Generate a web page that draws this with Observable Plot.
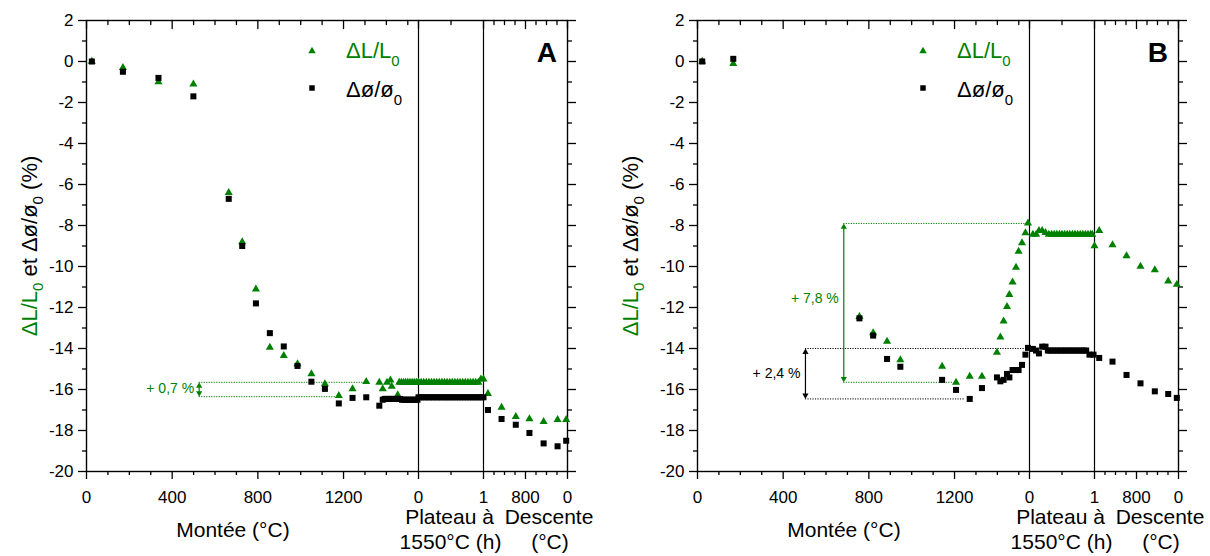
<!DOCTYPE html>
<html><head><meta charset="utf-8">
<script src="https://cdn.jsdelivr.net/npm/d3@7"></script>
<script src="https://cdn.jsdelivr.net/npm/@observablehq/plot@0.6"></script>
<style>
body{margin:0;background:#fff;}
#wrap{display:flex;width:1210px;height:556px;overflow:hidden;}
#wrap svg{font-family:"Liberation Sans",Arial,sans-serif;}
</style></head><body><div id="wrap"></div>
<script>
const GREEN = "#008000";

// Broken x axis: Montée (°C) | Plateau à 1550°C (h) | Descente (°C)
const segDomains = [[0, 1550], [0, 1], [1600, 0]];
const segSpans = [332, 65, 84];

// Tick values
const monteeMajor = [0, 400, 800, 1200];
const monteeMinor = [100, 200, 300, 500, 600, 700, 900, 1000, 1100, 1300, 1400, 1500];
const plateauMajor = [0, 1];
const plateauMinor = [0.5];
const descenteMajor = [800, 0];
const descenteMinor = [1400, 1200, 1000, 600, 400, 200];
const yMajor = [2, 0, -2, -4, -6, -8, -10, -12, -14, -16, -18, -20];
const yMinor = [1, -1, -3, -5, -7, -9, -11, -13, -15, -17, -19];

// ---------- Panel A ----------
const A_monteeT_L = [25,170,336,499,664,727,791,856,921,985,1050,1113,1178,1242,1306,1367,1383,1403,1419,1425,1453,1460,1470,1480,1490,1500,1510,1520,1530,1540,1550];
const A_montee_L  = [0,-0.3,-1.0,-1.1,-6.4,-8.8,-11.1,-13.95,-14.35,-14.75,-15.24,-15.73,-16.3,-15.97,-15.62,-15.65,-15.97,-15.65,-15.55,-15.85,-16.27,-15.65,-15.65,-15.65,-15.65,-15.65,-15.65,-15.65,-15.65,-15.65,-15.65];
const A_monteeT_D = [25,170,336,499,664,727,791,856,921,985,1050,1113,1178,1242,1306,1367,1383,1392,1401,1410,1419,1428,1437,1446,1455,1464,1473,1482,1491,1500,1509,1518,1527,1536,1545];
const A_montee_D  = [0,-0.5,-0.8,-1.7,-6.7,-9.0,-11.8,-13.25,-13.9,-14.85,-15.62,-15.97,-16.68,-16.41,-16.38,-16.79,-16.5,-16.46,-16.46,-16.46,-16.46,-16.46,-16.46,-16.46,-16.46,-16.46,-16.5,-16.5,-16.5,-16.5,-16.5,-16.5,-16.5,-16.5,-16.5];
const A_plateauH  = [0,0.04,0.08,0.12,0.16,0.2,0.24,0.28,0.32,0.36,0.4,0.44,0.48,0.52,0.56,0.6,0.64,0.68,0.72,0.76,0.8,0.84,0.88,0.92,0.96,1.0];
const A_plateau_L = [-15.65,-15.65,-15.65,-15.65,-15.65,-15.65,-15.65,-15.65,-15.65,-15.65,-15.65,-15.65,-15.65,-15.65,-15.65,-15.65,-15.65,-15.65,-15.65,-15.65,-15.65,-15.65,-15.65,-15.65,-15.49,-15.49];
const A_plateau_D = [-16.38,-16.38,-16.38,-16.38,-16.38,-16.38,-16.38,-16.38,-16.38,-16.38,-16.38,-16.38,-16.38,-16.38,-16.38,-16.38,-16.38,-16.38,-16.38,-16.38,-16.38,-16.38,-16.38,-16.38,-16.38,-16.38];
const A_descenteT  = [1515,1256,985,725,455,189,25];
const A_descente_L = [-16.2,-16.87,-17.33,-17.44,-17.57,-17.47,-17.47];
const A_descente_D = [-17.0,-17.44,-17.72,-18.12,-18.63,-18.77,-18.5];
// annotations (arrow at Montée temperature, from top to bottom value)
const A_annotT = [526];
const A_annotTop = [-15.65];
const A_annotBot = [-16.35];
const A_annotEndTop = [1298];
const A_annotEndBot = [1167];
const A_annotLabel = ["+ 0,7 %"];
const A_annotLabelY = [-15.97];
const A_annotColor = [GREEN];

// ---------- Panel B ----------
const B_monteeT   = [22,167,756,820,885,947,1142,1207,1271,1328,1398,1414,1429,1445,1456,1471,1487,1499,1515,1531,1543];
const B_montee_L  = [0,-0.1,-12.45,-13.24,-13.65,-14.56,-14.87,-15.65,-15.36,-15.36,-14.19,-13.45,-12.67,-11.96,-11.37,-10.77,-10.04,-9.26,-8.85,-8.36,-7.89];
const B_montee_D  = [0,0.13,-12.53,-13.37,-14.51,-14.89,-15.53,-16.02,-16.46,-15.93,-15.41,-15.6,-15.53,-15.24,-15.41,-15.05,-15.05,-15.05,-14.8,-14.3,-13.97];
const B_plateauH_L = [0.052,0.103,0.145,0.195,0.246,0.298,0.34,0.38,0.42,0.46,0.5,0.54,0.58,0.62,0.66,0.7,0.74,0.78,0.82,0.86,0.9,0.94,0.965,1.0];
const B_plateau_L  = [-8.44,-8.44,-8.25,-8.25,-8.35,-8.44,-8.44,-8.44,-8.44,-8.44,-8.44,-8.44,-8.44,-8.44,-8.44,-8.44,-8.44,-8.44,-8.44,-8.44,-8.44,-8.44,-8.44,-9.0];
const B_plateauH_D = [0.052,0.1,0.145,0.195,0.246,0.283,0.32,0.36,0.4,0.44,0.48,0.52,0.56,0.6,0.64,0.68,0.72,0.76,0.8,0.84,0.872,0.923,0.985];
const B_plateau_D  = [-14.02,-14.1,-14.24,-13.91,-13.91,-14.1,-14.1,-14.1,-14.1,-14.1,-14.1,-14.1,-14.1,-14.1,-14.1,-14.1,-14.1,-14.1,-14.1,-14.1,-14.1,-14.3,-14.3];
const B_descenteT  = [1510,1257,990,724,451,196,32];
const B_descente_L = [-8.25,-8.95,-9.48,-9.99,-10.17,-10.72,-10.88];
const B_descente_D = [-14.46,-14.64,-15.29,-15.7,-16.09,-16.22,-16.41];
const B_annotT = [683, 504];
const B_annotTop = [-7.9, -14.0];
const B_annotBot = [-15.65, -16.46];
const B_annotEndTop = [1545, 1545];
const B_annotEndBot = [1195, 1250];
const B_annotLabel = ["+ 7,8 %", "+ 2,4 %"];
const B_annotLabelY = [-11.58, -15.24];
const B_annotColor = [GREEN, "black"];

const TOTAL = segSpans[0] + segSpans[1] + segSpans[2];
function segU(si, v) {
  let off = 0;
  for (let i = 0; i < si; i++) off += segSpans[i];
  const [d0, d1] = segDomains[si];
  return off + (v - d0) / (d1 - d0) * segSpans[si];
}

const labelMap = new Map();
const xMajorU = [], xMinorU = [];
monteeMajor.forEach(v => { const u = segU(0, v); xMajorU.push(u); labelMap.set(u, String(v)); });
plateauMajor.forEach(v => { const u = segU(1, v); xMajorU.push(u); labelMap.set(u, String(v)); });
descenteMajor.forEach(v => { const u = segU(2, v); xMajorU.push(u); labelMap.set(u, String(v)); });
monteeMinor.forEach(v => xMinorU.push(segU(0, v)));
plateauMinor.forEach(v => xMinorU.push(segU(1, v)));
descenteMinor.forEach(v => xMinorU.push(segU(2, v)));

const tickDown = {draw(ctx, l) { ctx.moveTo(0, 0); ctx.lineTo(0, l); }};

function rows(seg, xs, ys) { return xs.map((x, i) => ({u: segU(seg, x), v: ys[i]})); }

function build(p) {
  const W = 605, H = 556, mt = 20, mb = 85;
  const ml = p.ml, mr = W - ml - TOTAL;
  const L = [...rows(0, p.mTL, p.mL), ...rows(1, p.pHL, p.pL), ...rows(2, p.dT, p.dL)];
  const D = [...rows(0, p.mTD, p.mD), ...rows(1, p.pHD, p.pD), ...rows(2, p.dT, p.dD)];
  const ann = p.aT.map((t, i) => ({
    u: segU(0, t), top: p.aTop[i], bot: p.aBot[i],
    uTop: segU(0, p.aEndTop[i]), uBot: segU(0, p.aEndBot[i]),
    label: p.aLabel[i], ly: p.aLabelY[i], color: p.aColor[i]
  }));
  const chart = Plot.plot({
    width: W, height: H, marginLeft: ml, marginRight: mr, marginTop: mt, marginBottom: mb,
    x: {domain: [0, TOTAL]},
    y: {domain: [-20, 2]},
    style: {fontFamily: "'Liberation Sans', Arial, sans-serif", fontSize: "17px", color: "black", background: "white", overflow: "visible"},
    marks: [
      Plot.axisY(yMajor, {anchor: "left", tickSize: 8, tickPadding: 5, strokeWidth: 1.3, fontSize: 17, label: null, tickFormat: d => String(d)}),
      Plot.axisY(yMinor, {anchor: "left", tickSize: 4, strokeWidth: 1.3, label: null, tickFormat: () => ""}),
      Plot.axisY(yMajor, {anchor: "right", tickSize: 8, strokeWidth: 1.3, label: null, tickFormat: () => ""}),
      Plot.axisY(yMinor, {anchor: "right", tickSize: 4, strokeWidth: 1.3, label: null, tickFormat: () => ""}),
      Plot.axisX(xMajorU, {anchor: "bottom", tickSize: 8, tickPadding: 11, strokeWidth: 1.3, fontSize: 17, label: null, tickFormat: u => labelMap.get(u)}),
      Plot.axisX(xMinorU, {anchor: "bottom", tickSize: 4, strokeWidth: 1.3, label: null, tickFormat: () => ""}),
      Plot.vector(xMajorU, {x: d => d, frameAnchor: "top", length: 8, anchor: "start", shape: tickDown, stroke: "black", strokeWidth: 1.3}),
      Plot.vector(xMinorU, {x: d => d, frameAnchor: "top", length: 4, anchor: "start", shape: tickDown, stroke: "black", strokeWidth: 1.3}),
      Plot.ruleX([segU(0, 1550), segU(1, 1)], {stroke: "black", strokeWidth: 1.2}),
      Plot.frame({stroke: "black", strokeWidth: 1.4}),
      // annotations
      Plot.ruleY(ann, {y: "top", x1: "u", x2: "uTop", stroke: "color", strokeWidth: 1, strokeDasharray: "1.2,1.3"}),
      Plot.ruleY(ann, {y: "bot", x1: "u", x2: "uBot", stroke: "color", strokeWidth: 1, strokeDasharray: "1.2,1.3"}),
      Plot.ruleX(ann, {x: "u", y1: "top", y2: "bot", stroke: "color", strokeWidth: 1.2, insetTop: 3, insetBottom: 3}),
      Plot.dot(ann, {x: "u", y: "top", symbol: "triangle", r: 2.3, fill: "color", dy: 3.6}),
      Plot.dot(ann, {x: "u", y: "bot", symbol: "triangle", r: 2.3, fill: "color", rotate: 180, dy: -3.6}),
      Plot.text(ann, {x: "u", y: "ly", text: "label", fill: "color", textAnchor: "end", dx: -5, fontSize: 14}),
      // data
      Plot.dot(L, {x: "u", y: "v", symbol: "triangle", r: 3.0, fill: GREEN}),
      Plot.dot(D, {x: "u", y: "v", symbol: "square", r: 3.4, fill: "black"})
    ]
  });

  const svg = d3.select(chart);
  const sx = chart.scale("x");
  const X = sx.apply ? (v => sx.apply(v)) : d3.scaleLinear(sx.domain, sx.range);
  const font = "'Liberation Sans', Arial, sans-serif";
  const addText = (x, y, s, size, anchor, fill, weight) =>
    svg.append("text").attr("x", x).attr("y", y).attr("font-family", font).attr("font-size", size)
      .attr("text-anchor", anchor).attr("fill", fill || "black").attr("font-weight", weight || "normal").text(s);

  // axis titles
  addText(X(segU(0, 686)), 537, "Montée (°C)", 21, "middle");
  const pc = X(segU(1, 0.5));
  addText(pc - 1, 524, "Plateau à", 21, "middle");
  addText(pc, 549, "1550°C (h)", 21, "middle");
  const dc = X(segU(2, 800)) + 24;
  addText(dc, 524, "Descente", 21, "middle");
  addText(dc + 1, 549, "(°C)", 21, "middle");

  // y label
  const t = svg.append("text").attr("transform", `translate(${p.ylx},246) rotate(-90)`)
    .attr("text-anchor", "middle").attr("font-family", font).attr("font-size", 22).attr("fill", "black");
  t.append("tspan").attr("fill", GREEN).text("ΔL/L");
  t.append("tspan").attr("fill", GREEN).attr("font-size", 15).attr("dy", 6).text("0");
  t.append("tspan").attr("dy", -6).text(" et Δø/ø");
  t.append("tspan").attr("font-size", 15).attr("dy", 6).text("0");
  t.append("tspan").attr("dy", -6).text(" (%)");

  // legend
  const lx = ml + 226;
  svg.append("path").attr("d", d3.symbol(d3.symbolTriangle, 24)()).attr("transform", `translate(${lx},51)`).attr("fill", GREEN);
  svg.append("path").attr("d", d3.symbol(d3.symbolSquare, 30)()).attr("transform", `translate(${lx},88)`).attr("fill", "black");
  const l1 = svg.append("text").attr("x", ml + 260).attr("y", 58).attr("text-anchor", "start").attr("font-family", font).attr("font-size", 22).attr("fill", GREEN);
  l1.append("tspan").text("ΔL/L");
  l1.append("tspan").attr("font-size", 15).attr("dy", 8).text("0");
  const l2 = svg.append("text").attr("x", ml + 260).attr("y", 97).attr("text-anchor", "start").attr("font-family", font).attr("font-size", 22).attr("fill", "black");
  l2.append("tspan").text("Δø/ø");
  l2.append("tspan").attr("font-size", 15).attr("dy", 8).text("0");

  // panel letter
  addText(ml + TOTAL - 10, 62, p.letter, 28, "end", "black", "bold");
  return chart;
}

const wrap = document.getElementById("wrap");
wrap.appendChild(build({
  ml: 86, ylx: 37, letter: "A",
  mTL: A_monteeT_L, mL: A_montee_L, mTD: A_monteeT_D, mD: A_montee_D,
  pHL: A_plateauH, pL: A_plateau_L, pHD: A_plateauH, pD: A_plateau_D,
  dT: A_descenteT, dL: A_descente_L, dD: A_descente_D,
  aT: A_annotT, aTop: A_annotTop, aBot: A_annotBot, aEndTop: A_annotEndTop, aEndBot: A_annotEndBot,
  aLabel: A_annotLabel, aLabelY: A_annotLabelY, aColor: A_annotColor
}));
wrap.appendChild(build({
  ml: 92, ylx: 33, letter: "B",
  mTL: B_monteeT, mL: B_montee_L, mTD: B_monteeT, mD: B_montee_D,
  pHL: B_plateauH_L, pL: B_plateau_L, pHD: B_plateauH_D, pD: B_plateau_D,
  dT: B_descenteT, dL: B_descente_L, dD: B_descente_D,
  aT: B_annotT, aTop: B_annotTop, aBot: B_annotBot, aEndTop: B_annotEndTop, aEndBot: B_annotEndBot,
  aLabel: B_annotLabel, aLabelY: B_annotLabelY, aColor: B_annotColor
}));
</script></body></html>
